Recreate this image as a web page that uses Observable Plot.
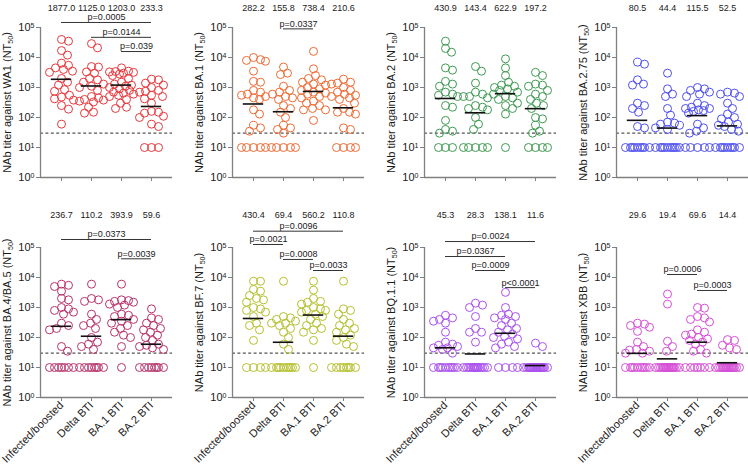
<!DOCTYPE html>
<html><head><meta charset="utf-8">
<script src="https://cdn.jsdelivr.net/npm/d3@7"></script>
<script src="https://cdn.jsdelivr.net/npm/@observablehq/plot@0.6"></script>
<style>
body{margin:0;background:#fff}
#chart{position:relative;width:748px;height:469px;font-family:"Liberation Sans",Arial,sans-serif}
#chart svg{position:absolute;overflow:visible}
</style>
</head><body><div id="chart"></div>
<script>
const groups = ["Infected/boosted", "Delta BTI", "BA.1 BTI", "BA.2 BTI"];
const variants = ["WA1", "BA.1", "BA.2", "BA.2.75", "BA.4/BA.5", "BF.7", "BQ.1.1", "XBB"];
const colors = ["#e8383d", "#ee6a33", "#3f9a52", "#4f4ff0", "#b8336c", "#b5c02e", "#ab52ee", "#d64fd6"];
const yTicks = [1, 10, 100, 1000, 10000, 100000];

// titers per variant: [Infected/boosted, Delta BTI, BA.1 BTI, BA.2 BTI]
const WA1 = [
  [40000,35000,17000,12000,6500,5500,4500,4000,3500,3200,2000,1500,1200,850,750,550,480,420,380,250,190,60],
  [29000,21000,5000,4800,3300,3000,2000,1800,1500,1300,1100,1000,800,500,450,400,380,350,330,220,150,140],
  [4500,3500,3400,3300,3200,3000,2800,2500,2000,1500,1300,1200,1100,1000,900,800,700,650,600,550,500,400,300,220,200],
  [1900,1800,1400,1200,1000,800,750,700,550,500,420,300,160,150,140,110,100,60,50,10,10,10]
];
const BA1 = [
  [10000,8500,8000,7500,3500,1600,1500,800,700,600,550,500,450,400,180,130,55,45,35,10,10,10,10,10],
  [4800,3000,2700,1100,800,700,600,500,450,400,250,200,150,100,55,45,40,30,10,10,10,10,10],
  [16000,4200,2500,2000,1800,1500,1300,1200,1000,900,800,700,650,600,500,450,350,300,250,200,180,180,80],
  [1900,1500,1400,1300,1000,800,700,600,550,500,450,400,300,200,150,150,130,45,40,10,10,10,10]
];
const BA2 = [
  [35000,20000,15000,4500,3800,1600,1300,1100,700,600,550,500,250,220,80,40,35,30,10,10,10],
  [5000,3500,1400,700,600,500,500,450,250,220,200,180,100,60,40,10,10,10,10,10],
  [9000,4500,2500,1500,1200,1100,1000,900,800,700,600,500,450,400,300,250,200,130,10],
  [3200,2500,1300,1200,1100,800,600,500,400,300,250,200,100,90,55,35,30,10,10,10,10]
];
const BA275 = [
  [7000,6000,1800,1300,1200,300,250,200,150,50,45,10,10,10,10,10,10,10,10,10],
  [3000,900,600,500,200,120,70,65,60,55,45,40,10,10,10,10,10,10,10,10,10,10],
  [1000,900,800,700,600,500,300,250,220,200,200,180,170,160,140,60,45,35,30,10,10,10,10,10],
  [700,650,600,500,300,200,130,100,90,70,60,55,50,40,35,10,10,10,10,10,10,10,10,10]
];
const BA45 = [
  [6000,5500,5000,3500,2000,1800,1000,900,800,700,600,300,250,200,180,50,35,10,10,10,10,10,10,10],
  [6000,2000,1800,1600,600,400,300,250,200,100,70,60,50,40,10,10,10,10,10,10,10,10],
  [6000,1800,1700,1600,1500,1300,1200,1000,600,550,500,400,350,300,250,200,150,120,100,50,10],
  [900,450,400,300,250,200,180,150,120,100,80,60,55,50,45,40,10,10,10,10,10,10,10,10]
];
const BF7 = [
  [7500,7500,4000,3500,2500,2000,1800,1500,1000,900,800,700,500,300,250,180,80,10,10,10,10],
  [7500,500,450,400,350,300,300,250,200,150,100,60,40,10,10,10,10,10,10,10,10,10,10],
  [7500,3800,2000,1600,1500,1300,1000,900,800,800,700,600,500,400,300,250,200,180,150,80,10],
  [7500,900,800,600,400,300,250,200,180,150,120,100,80,60,50,10,10,10,10,10,10,10,10]
];
const BQ11 = [
  [550,450,400,350,300,150,70,60,55,50,45,45,40,30,10,10,10,10,10,10,10,10,10,10],
  [1400,1200,1000,500,200,150,150,70,10,10,10,10,10,10,10,10,10,10,10,10,10,10,10],
  [3200,1000,600,550,500,450,400,300,250,200,180,150,130,110,100,90,70,60,50,45,10,10,10,10],
  [65,50,10,10,10,10,10,10,10,10,10,10,10,10,10,10,10,10,10,10,10,10]
];
const XBB = [
  [300,280,250,220,160,70,50,40,38,35,30,30,10,10,10,10,10,10,10,10,10,10],
  [2800,1300,75,50,35,10,10,10,10,10,10,10,10,10,10,10,10,10,10,10,10,10,10],
  [1000,950,500,450,400,330,180,150,130,120,100,90,80,70,60,40,35,30,10,10,10,10,10,10,10],
  [85,80,55,45,40,10,10,10,10,10,10,10,10,10,10,10,10,10,10,10,10,10,10]
];
const titers = [WA1, BA1, BA2, BA275, BA45, BF7, BQ11, XBB];

// geometric mean titers shown on top
const gmtWA1 = [1877.0, 1125.0, 1203.0, 233.3];
const gmtBA1 = [282.2, 155.8, 738.4, 210.6];
const gmtBA2 = [430.9, 143.4, 622.9, 197.2];
const gmtBA275 = [80.5, 44.4, 115.5, 52.5];
const gmtBA45 = [236.7, 110.2, 393.9, 59.6];
const gmtBF7 = [430.4, 69.4, 560.2, 110.8];
const gmtBQ11 = [45.3, 28.3, 138.1, 11.6];
const gmtXBB = [29.6, 19.4, 69.6, 14.4];
const gmts = [gmtWA1, gmtBA1, gmtBA2, gmtBA275, gmtBA45, gmtBF7, gmtBQ11, gmtXBB];

// comparisons: group a, group b, label, bracket level (titer units)
const pWA1 = [{a:0,b:3,p:"p=0.0005",y:1.47e5},{a:1,b:3,p:"p=0.0144",y:4.7e4},{a:2,b:3,p:"p=0.039",y:1.58e4}];
const pBA1 = [{a:1,b:2,p:"p=0.0337",y:9.0e4}];
const pBA2 = [];
const pBA275 = [];
const pBA45 = [{a:0,b:3,p:"p=0.0373",y:1.85e5},{a:2,b:3,p:"p=0.0039",y:4.2e4}];
const pBF7 = [{a:0,b:3,p:"p=0.0096",y:3.5e5},{a:0,b:1,p:"p=0.0021",y:1.26e5},{a:1,b:2,p:"p=0.0008",y:4.0e4},{a:2,b:3,p:"p=0.0033",y:1.71e4}];
const pBQ11 = [{a:0,b:3,p:"p=0.0024",y:1.58e5},{a:0,b:2,p:"p=0.0367",y:5.0e4},{a:1,b:2,p:"p=0.0009",y:1.71e4},{a:2,b:3,p:"p<0.0001",y:4.6e3}];
const pXBB = [{a:1,b:2,p:"p=0.0006",y:1.26e4},{a:2,b:3,p:"p=0.0003",y:3.7e3}];
const comps = [pWA1, pBA1, pBA2, pBA275, pBA45, pBF7, pBQ11, pXBB];

// deterministic beeswarm offsets (in category units) computed from the values
function swarm(values, pxPerDecade, pxPerUnit) {
  const r = 4, maxOff = 12;
  const pts = values.map(v => ({y: Math.log10(v) * pxPerDecade, x: 0}));
  const order = d3.range(pts.length).sort((a, b) => pts[b].y - pts[a].y);
  const cands = [0];
  for (let k = 1; k <= maxOff; k++) cands.push(k, -k);
  const placed = [];
  for (const i of order) {
    const p = pts[i];
    let best = 0, bestScore = -Infinity;
    for (const c of cands) {
      let minD = Infinity;
      for (const q of placed) minD = Math.min(minD, Math.hypot(c - q.x, p.y - q.y));
      if (minD >= 2 * r - 1) { best = c; break; }
      if (minD > bestScore) { bestScore = minD; best = c; }
    }
    p.x = best;
    placed.push(p);
  }
  return pts.map(p => p.x / pxPerUnit);
}

const NS = "http://www.w3.org/2000/svg";
function fixText(svg) {
  svg.querySelectorAll("text").forEach(t => {
    const s = t.textContent;
    const m = s.match(/^10\^(\d)$/);
    if (m) {
      t.textContent = "10";
      const ts = document.createElementNS(NS, "tspan");
      ts.setAttribute("dy", "-0.45em");
      ts.setAttribute("font-size", "0.64em");
      ts.textContent = m[1];
      t.appendChild(ts);
    } else if (s.endsWith("(NT50)")) {
      t.textContent = s.slice(0, -3);
      const sub = document.createElementNS(NS, "tspan");
      sub.setAttribute("dy", "0.35em");
      sub.setAttribute("font-size", "0.64em");
      sub.textContent = "50";
      const close = document.createElementNS(NS, "tspan");
      close.setAttribute("dy", "-0.35em");
      close.textContent = ")";
      t.appendChild(sub);
      t.appendChild(close);
    }
  });
}

const chart = document.getElementById("chart");
for (let i = 0; i < 8; i++) {
  const row = Math.floor(i / 4), col = i % 4;
  const marginTop = row ? 42 : 27, height = row ? 264 : 205, marginBottom = row ? 72 : 28;
  const pxPerDecade = (height - marginTop - marginBottom) / 5;
  const xDom = [-0.7, 3.7];
  const pxPerUnit = (192 - 40 - 20) / (xDom[1] - xDom[0]);
  const data = [];
  titers[i].forEach((arr, g) => {
    const offs = swarm(arr, pxPerDecade, pxPerUnit);
    arr.forEach((v, k) => data.push({g, v, x: g + offs[k]}));
  });
  const gm = gmts[i].map((m, g) => ({g, m}));
  const svg = Plot.plot({
    width: 192, height, marginLeft: 40, marginRight: 20, marginTop, marginBottom,
    style: {fontFamily: '"Liberation Sans", Arial, sans-serif', fontSize: "11px", color: "#1a1a1a", background: "transparent"},
    x: {type: "linear", domain: xDom},
    y: {type: "log", domain: [1, 1e5]},
    marks: [
      Plot.ruleY([30], {stroke: "#555", strokeDasharray: "3,2.4", strokeWidth: 1.2}),
      Plot.dot(data, {x: "x", y: "v", r: 4, stroke: colors[i], strokeWidth: 1, fill: "none"}),
      Plot.ruleY(gm, {y: "m", x1: d => d.g - 0.34, x2: d => d.g + 0.34, stroke: "#111", strokeWidth: 1.6}),
      Plot.ruleX([xDom[0]], {stroke: "#808080", strokeWidth: 1.3}),
      Plot.ruleY([1], {stroke: "#808080", strokeWidth: 1.3}),
      Plot.axisY({ticks: yTicks, tickFormat: d => "10^" + Math.round(Math.log10(d)), tickSize: 4, tickPadding: 2, stroke: "#808080", label: null, fontSize: 11}),
      Plot.axisX({ticks: [0, 1, 2, 3], tickFormat: row ? (d => groups[d]) : (() => ""), tickRotate: row ? -45 : 0, tickSize: 4, tickPadding: 2, stroke: "#808080", label: null, fontSize: 11}),
      Plot.text(gm, {x: "g", text: d => d.m.toFixed(1), frameAnchor: "top", dy: row ? -36 : -23, fontSize: 9}),
      Plot.ruleY(comps[i], {y: "y", x1: "a", x2: "b", stroke: "#333", strokeWidth: 1}),
      Plot.text(comps[i], {x: d => (d.a + d.b) / 2, y: "y", text: "p", dy: -5, fontSize: 9}),
      Plot.text([`NAb titer against ${variants[i]} (NT50)`], {frameAnchor: "left", textAnchor: "middle", rotate: -90, dx: -33, fontSize: 11})
    ]
  });
  fixText(svg);
  svg.style.left = (col * 192) + "px";
  svg.style.top = (row * 205) + "px";
  chart.appendChild(svg);
}
</script>
</body></html>
